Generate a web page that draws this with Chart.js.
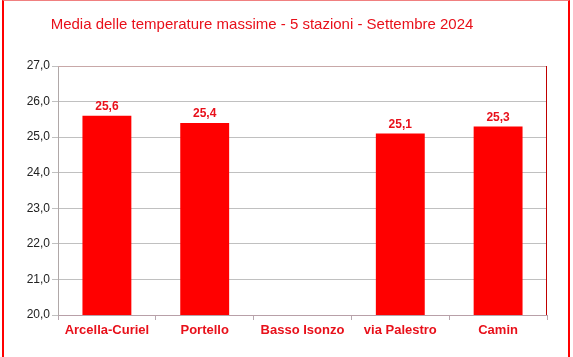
<!DOCTYPE html>
<html>
<head>
<meta charset="utf-8">
<script src="https://cdn.jsdelivr.net/npm/chart.js@4"></script>
<style>
  html, body { margin:0; padding:0; background:#fff; }
  #cornice { position:absolute; left:2px; top:0; width:564px; height:400px;
             border-left:2px solid #ff0000; border-right:2px solid #ff0000;
             border-top:1px solid #f08080; }
  #wrap { position:absolute; left:0; top:0; width:573px; height:357px; }
</style>
</head>
<body>
<div id="cornice"></div>
<div id="wrap"><canvas id="grafico"></canvas></div>
<script>
// ----------------------------------------- Dati ----------------------------------------- //
const stazioni = ['Arcella-Curiel', 'Portello', 'Basso Isonzo', 'via Palestro', 'Camin'];
const tmax = [25.6, 25.4, null, 25.1, 25.3];
const asseMin = 20, asseMax = 27;

const titolo = 'Media delle temperature massime - 5 stazioni - Settembre 2024';
const ROSSO = '#ff0000';
const fmt = v => v.toFixed(1).replace('.', ',');

// titolo + bordo superiore/destro dell'area e etichette valori
const extra = {
  id: 'extra',
  afterDraw(chart) {
    const { ctx, chartArea: a } = chart;
    ctx.save();
    ctx.fillStyle = '#e8101a';
    ctx.font = "15px 'Liberation Sans', Arial, sans-serif";
    ctx.textAlign = 'center';
    ctx.textBaseline = 'middle';
    ctx.fillText(titolo, 262, 25);

    ctx.lineWidth = 1;
    ctx.strokeStyle = '#c8a8a8';
    ctx.beginPath(); ctx.moveTo(a.left, a.top + 0.5); ctx.lineTo(a.right, a.top + 0.5); ctx.stroke();
    ctx.strokeStyle = '#c00000';
    ctx.beginPath(); ctx.moveTo(a.right - 0.5, a.top); ctx.lineTo(a.right - 0.5, a.bottom); ctx.stroke();

    ctx.fillStyle = '#e8101a';
    ctx.font = "bold 12px 'Liberation Sans', Arial, sans-serif";
    ctx.textBaseline = 'bottom';
    chart.getDatasetMeta(0).data.forEach((bar, i) => {
      if (tmax[i] == null) return;
      ctx.fillText(fmt(tmax[i]), bar.x, bar.y - 3);
    });
    ctx.restore();
  }
};

new Chart(document.getElementById('grafico'), {
  type: 'bar',
  data: {
    labels: stazioni,
    datasets: [{
      data: tmax,
      backgroundColor: ROSSO,
      borderWidth: 0,
      barPercentage: 1,
      categoryPercentage: 0.5
    }]
  },
  options: {
    responsive: true,
    maintainAspectRatio: false,
    animation: false,
    layout: { padding: { top: 66, right: 26, left: 0, bottom: 0 } },
    plugins: { legend: { display: false }, tooltip: { enabled: false } },
    scales: {
      x: {
        afterFit: s => { s.height = 42; },
        grid: { display: true, offset: true, drawOnChartArea: false, tickLength: 5, color: '#b8a8b0' },
        border: { color: '#b8a0a8' },
        ticks: {
          color: '#e8101a', padding: 3,
          font: { family: "'Liberation Sans', Arial, sans-serif", size: 13, weight: 'bold' }
        }
      },
      y: {
        min: asseMin, max: asseMax,
        afterFit: s => { s.width = 58; },
        grid: { color: '#c0c0c0', tickLength: 6 },
        border: { color: '#b0a8a8' },
        ticks: {
          stepSize: 1, color: '#222', padding: 2,
          font: { family: "'Liberation Sans', Arial, sans-serif", size: 12 },
          callback: v => fmt(v)
        }
      }
    }
  },
  plugins: [extra]
});
</script>
</body>
</html>
